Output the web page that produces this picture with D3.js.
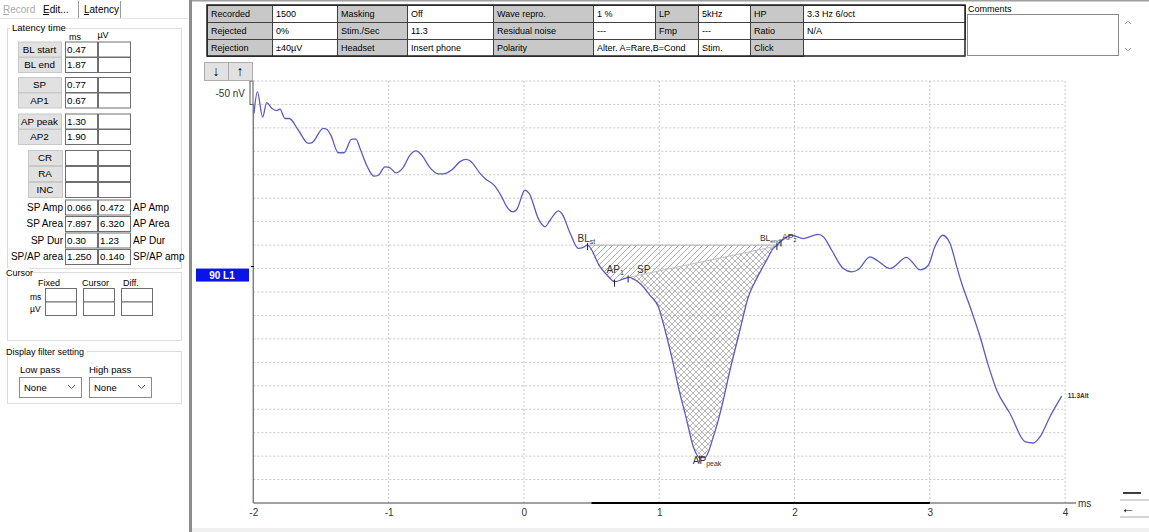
<!DOCTYPE html>
<html><head><meta charset="utf-8">
<script src="https://cdn.jsdelivr.net/npm/d3@7"></script>
<style>body{margin:0;background:#fff;overflow:hidden} text{font-family:"Liberation Sans",Arial,sans-serif}</style>
</head><body><svg id="c" width="1149" height="532"></svg>
<script>
// ---------------- DATA ----------------
const timeMs = [-1.995,-1.970,-1.931,-1.901,-1.864,-1.827,-1.803,-1.766,-1.734,-1.667,
 -1.593,-1.568,-1.483,-1.458,-1.428,-1.372,-1.330,-1.273,-1.241,-1.211,
 -1.157,-1.108,-1.076,-1.027,-0.995,-0.945,-0.896,-0.842,-0.798,-0.755,
 -0.699,-0.633,-0.596,-0.534,-0.472,-0.428,-0.398,-0.324,-0.288,-0.214,
 -0.164,-0.127,-0.083,-0.053,0.008,0.040,0.106,0.156,0.193,0.254,
 0.279,0.341,0.402,0.439,0.470,0.562,0.624,0.670,0.747,0.770,
 0.858,0.932,0.993,1.043,1.092,1.141,1.203,1.252,1.300,1.338,
 1.400,1.462,1.523,1.597,1.659,1.721,1.794,1.843,1.870,1.900,
 1.979,2.065,2.176,2.213,2.275,2.361,2.423,2.472,2.558,2.607,
 2.706,2.829,2.866,2.928,2.989,3.038,3.095,3.149,3.199,3.236,
 3.297,3.371,3.432,3.494,3.593,3.704,3.765,3.814,3.888,3.975];
const amplitudeUv = [0.331,0.377,0.323,0.354,0.342,0.337,0.340,0.320,0.320,0.295,
 0.267,0.268,0.299,0.297,0.285,0.247,0.247,0.276,0.276,0.256,
 0.217,0.197,0.199,0.217,0.216,0.204,0.214,0.242,0.251,0.242,
 0.217,0.202,0.202,0.210,0.228,0.233,0.230,0.203,0.192,0.176,
 0.153,0.132,0.121,0.126,0.167,0.160,0.107,0.089,0.103,0.123,
 0.118,0.076,0.043,0.045,0.050,0.004,-0.017,-0.028,-0.021,-0.019,
 -0.032,-0.057,-0.081,-0.131,-0.188,-0.252,-0.323,-0.380,-0.403,-0.403,
 -0.359,-0.295,-0.217,-0.131,-0.060,-0.021,0.018,0.043,0.050,0.058,
 0.071,0.064,0.073,0.068,0.039,0.000,-0.007,-0.002,0.025,0.018,
 0.000,0.024,0.015,-0.003,0.007,0.047,0.071,0.054,0.004,-0.032,
 -0.081,-0.145,-0.206,-0.259,-0.309,-0.369,-0.372,-0.359,-0.316,-0.272];

const xTicks = [-2,-1,0,1,2,3,4];
const latencyNames = ["BL start","BL end","SP","AP1","AP peak","AP2"];
const latencyMs = [0.47,1.87,0.77,0.67,1.30,1.90];
const extraNames = ["CR","RA","INC"];
const resultLeftLabels = ["SP Amp","SP Area","SP Dur","SP/AP area"];
const resultLeft = ["0.066","7.897","0.30","1.250"];
const resultRight = ["0.472","6.320","1.23","0.140"];
const resultRightLabels = ["AP Amp","AP Area","AP Dur","SP/AP amp"];
const tableRow1 = ["Recorded","1500","Masking","Off","Wave repro.","1 %","LP","5kHz","HP","3.3 Hz 6/oct"];
const tableRow2 = ["Rejected","0%","Stim./Sec","11.3","Residual noise","---","Fmp","---","Ratio","N/A"];
const tableRow3 = ["Rejection","±40µV","Headset","Insert phone","Polarity","Alter. A=Rare,B=Cond","Stim.","Click"];
const analysisWindow = [0.5, 3];
const scaleLabel = "-50 nV";
const traceLabel = "90 L1";
const traceNote = "11.3Alt";

// ---------------- DRAW ----------------
const svg = d3.select("#c");
const SERIF = "'Liberation Serif','Times New Roman',serif";

function t(g, x, y, s, o = {}) {
  const e = g.append("text").attr("x", x).attr("y", y).text(s)
    .attr("font-size", o.size || 10).attr("fill", o.fill || "#000");
  if (o.anchor) e.attr("text-anchor", o.anchor);
  if (o.weight) e.attr("font-weight", o.weight);
  if (o.family) e.attr("font-family", o.family);
  return e;
}
function box(g, x, y, w, h, fill, stroke, sw = 1) {
  return g.append("rect").attr("x", x + 0.5).attr("y", y + 0.5).attr("width", w).attr("height", h)
    .attr("fill", fill).attr("stroke", stroke).attr("stroke-width", sw);
}

// ----- left panel -----
const lp = svg.append("g");
t(lp, 3, 13, "Record", {fill: "#a8a8a8"});
lp.append("line").attr("x1", 3).attr("x2", 9).attr("y1", 14.5).attr("y2", 14.5).attr("stroke", "#a8a8a8");
t(lp, 43, 13, "Edit...");
lp.append("line").attr("x1", 43).attr("x2", 49).attr("y1", 14.5).attr("y2", 14.5).attr("stroke", "#000");
t(lp, 84, 13, "Latency");
lp.append("line").attr("x1", 84).attr("x2", 89).attr("y1", 14.5).attr("y2", 14.5).attr("stroke", "#000");
lp.append("path").attr("d", "M78.5,18V1M120.5,1V18").attr("fill", "none").attr("stroke", "#9a9a9a");
lp.append("line").attr("x1", 0).attr("x2", 188).attr("y1", 18.5).attr("y2", 18.5).attr("stroke", "#e4e4e4");

box(lp, 7, 28, 174, 240, "none", "#dcdcdc");
lp.append("rect").attr("x", 10).attr("y", 22).attr("width", 56).attr("height", 10).attr("fill", "#fff");
t(lp, 12, 31, "Latency time", {size: 9.5});
t(lp, 75, 40, "ms", {size: 9, anchor: "middle"});
t(lp, 103, 38, "µV", {size: 9, anchor: "middle"});

const latY = [41.5, 57, 77, 92.5, 113.5, 129];
latencyNames.forEach((n, i) => {
  box(lp, 18, latY[i], 43, 15, "#e1e1e1", "#c8c8c8");
  t(lp, 39.5, latY[i] + 11, n, {anchor: "middle", size: 9.8});
  box(lp, 65, latY[i], 32, 15, "#fff", "#6e6e6e");
  box(lp, 98, latY[i], 32, 15, "#fff", "#6e6e6e");
  t(lp, 67, latY[i] + 11, latencyMs[i].toFixed(2), {size: 9.8});
});
const exY = [150, 166, 182];
extraNames.forEach((n, i) => {
  box(lp, 28, exY[i], 34, 15, "#e1e1e1", "#c8c8c8");
  t(lp, 45, exY[i] + 11, n, {anchor: "middle", size: 9.8});
  box(lp, 65, exY[i], 32, 15, "#fff", "#6e6e6e");
  box(lp, 98, exY[i], 32, 15, "#fff", "#6e6e6e");
});
const resY = [199.5, 216, 232.5, 249];
resultLeftLabels.forEach((n, i) => {
  t(lp, 63, resY[i] + 11, n, {anchor: "end", size: 10});
  box(lp, 65, resY[i], 32, 15, "#fff", "#6e6e6e");
  box(lp, 98, resY[i], 32, 15, "#fff", "#6e6e6e");
  t(lp, 67, resY[i] + 11, resultLeft[i], {size: 9.8});
  t(lp, 100, resY[i] + 11, resultRight[i], {size: 9.8});
  t(lp, 133, resY[i] + 11, resultRightLabels[i], {size: 10});
});

box(lp, 7, 272, 174, 68, "none", "#dcdcdc");
lp.append("rect").attr("x", 5).attr("y", 268).attr("width", 24).attr("height", 9).attr("fill", "#fff");
t(lp, 6, 276, "Cursor", {size: 9});
t(lp, 38, 286, "Fixed", {size: 9});
t(lp, 82, 286, "Cursor", {size: 9});
t(lp, 123, 286, "Diff.", {size: 9});
t(lp, 30, 300, "ms", {size: 8.5});
t(lp, 30, 312, "µV", {size: 8.5});
[45, 83, 121].forEach(x => {
  box(lp, x, 288, 31, 13.5, "#fff", "#6e6e6e");
  box(lp, x, 301.5, 31, 13.5, "#fff", "#6e6e6e");
});

box(lp, 7, 351, 174, 52, "none", "#dcdcdc");
lp.append("rect").attr("x", 5).attr("y", 347).attr("width", 82).attr("height", 9).attr("fill", "#fff");
t(lp, 6, 355, "Display filter setting", {size: 9});
t(lp, 20, 373, "Low pass", {size: 9.5});
t(lp, 89, 373, "High pass", {size: 9.5});
[19, 89].forEach(x => {
  box(lp, x, 377, 62, 20, "#fff", "#8a8a8a");
  t(lp, x + 5, 391, "None", {size: 9.5});
  lp.append("path").attr("d", `M${x + 49},${385}l3.5,3.5l3.5,-3.5`).attr("fill", "none").attr("stroke", "#555");
});

svg.append("rect").attr("x", 189).attr("y", 0).attr("width", 3).attr("height", 532).attr("fill", "#8c8c8c");
svg.append("line").attr("x1", 192).attr("x2", 1149).attr("y1", 0.5).attr("y2", 0.5).attr("stroke", "#a0a0a0").attr("stroke-width", 2);
svg.append("rect").attr("x", 192).attr("y", 528).attr("width", 957).attr("height", 4).attr("fill", "#f0f0f0");

// ----- info table -----
const tb = svg.append("g");
const colX = [207, 272, 337, 407, 493, 593, 655, 698, 750, 803, 965];
const rowY = [5, 22, 39, 56];
function row(cells, r, spans) {
  let c = 0;
  cells.forEach((s, i) => {
    const span = spans ? spans[i] : 1;
    const x0 = colX[c], x1 = colX[c + span];
    const isLabel = c % 2 === 0;
    box(tb, x0, rowY[r], x1 - x0, rowY[r + 1] - rowY[r], isLabel ? "#c8c8c8" : "#fff", "#404040");
    t(tb, x0 + 4, rowY[r] + 12, s, {size: 9});
    c += span;
  });
}
row(tableRow1, 0);
row(tableRow2, 1);
row(tableRow3, 2, [1, 1, 1, 1, 1, 2, 1, 1]);
tb.append("rect").attr("x", 207).attr("y", 5).attr("width", 758).attr("height", 51)
  .attr("fill", "none").attr("stroke", "#202020").attr("stroke-width", 1.5);
t(tb, 968, 12, "Comments", {size: 9});
box(tb, 967, 14, 151, 41, "#fff", "#8a8a8a");
tb.append("path").attr("d", "M1125,24l3,-3l3,3").attr("fill", "none").attr("stroke", "#b0b0b0");
tb.append("path").attr("d", "M1125,48l3,3l3,-3").attr("fill", "none").attr("stroke", "#b0b0b0");

// ----- plot -----
const x = d3.scaleLinear().domain([-2, 4]).range([253.3, 1065.1]);
const y = d3.scaleLinear().domain([-0.5, 0.4]).range([503, 81]);
const pg = svg.append("g");

const defs = svg.append("defs");
const p1 = defs.append("pattern").attr("id", "diag").attr("patternUnits", "userSpaceOnUse")
  .attr("width", 6).attr("height", 6);
p1.append("path").attr("d", "M-1,1l2,-2M0,6l6,-6M5,7l2,-2").attr("stroke", "#9a9a9a").attr("stroke-width", 0.8);
const p2 = defs.append("pattern").attr("id", "cross").attr("patternUnits", "userSpaceOnUse")
  .attr("width", 6).attr("height", 6);
p2.append("path").attr("d", "M-1,1l2,-2M0,6l6,-6M5,7l2,-2M-1,5l2,2M0,0l6,6M5,-1l2,2").attr("stroke", "#9a9a9a").attr("stroke-width", 0.7);

const gridVals = d3.range(-9, 9).map(k => +(k * 0.05).toFixed(2));
pg.selectAll("line.h").data(gridVals).join("line")
  .attr("x1", x(-2)).attr("x2", x(4)).attr("y1", d => y(d)).attr("y2", d => y(d))
  .attr("stroke", "#c8c8c8").attr("stroke-dasharray", "2,2");
pg.selectAll("line.v").data(xTicks.slice(1)).join("line")
  .attr("x1", d => x(d)).attr("x2", d => x(d)).attr("y1", y(0.4)).attr("y2", y(-0.5))
  .attr("stroke", "#c8c8c8").attr("stroke-dasharray", "2,2");

const xAxis = d3.axisBottom(x).tickValues(xTicks).tickSize(0).tickPadding(6).tickFormat(d => String(d));
const xa = pg.append("g").attr("transform", `translate(0,${y(-0.5)})`).call(xAxis);
xa.select(".domain").remove();
xa.selectAll("text").attr("font-size", 10).attr("fill", "#333").attr("font-family", "Liberation Sans, Arial, sans-serif");
pg.append("line").attr("x1", x(-2)).attr("x2", 1076).attr("y1", y(-0.5)).attr("y2", y(-0.5)).attr("stroke", "#808080").attr("stroke-width", 1.5);
pg.append("line").attr("x1", x(analysisWindow[0])).attr("x2", x(analysisWindow[1])).attr("y1", y(-0.5)).attr("y2", y(-0.5)).attr("stroke", "#000").attr("stroke-width", 2.2);
t(pg, 1078, 507, "ms", {size: 10, fill: "#333"});
pg.append("line").attr("x1", x(-2)).attr("x2", x(-2)).attr("y1", y(0.35)).attr("y2", y(-0.5)).attr("stroke", "#808080").attr("stroke-width", 1.5);
pg.append("rect").attr("x", x(-2) - 3.3).attr("y", y(0.4)).attr("width", 3).attr("height", y(0.35) - y(0.4))
  .attr("fill", "#fff").attr("stroke", "#555").attr("stroke-width", 1);
t(pg, 245, 97, scaleLabel, {size: 10, anchor: "end", fill: "#333"});

[[204, "↓"], [228, "↑"]].forEach(([bx, s]) => {
  box(pg, bx, 62, 24, 18, "#e1e1e1", "#adadad");
  t(pg, bx + 12, 76, s, {size: 14, anchor: "middle", weight: "bold"});
});

pg.append("rect").attr("x", 196).attr("y", y(0)).attr("width", 53).attr("height", 13).attr("fill", "#0a14e8");
t(pg, 222, y(0) + 10, traceLabel, {size: 10, anchor: "middle", weight: "bold", fill: "#fff"});
pg.append("line").attr("x1", 251).attr("x2", 254).attr("y1", y(0) - 2).attr("y2", y(0) - 2).attr("stroke", "#000");

const pts = timeMs.map((d, i) => [d, amplitudeUv[i]]);
const idx = ms => timeMs.findIndex(v => Math.abs(v - ms) < 1e-6);
const [blS, blE, spT, ap1T, apPT, ap2T] = latencyMs;
const base = amplitudeUv[idx(blS)];
const spPoly = pts.slice(idx(blS), idx(spT) + 1).concat([[ap2T, base]]);
const apPoly = pts.slice(idx(spT), idx(ap2T) + 1).concat([[ap2T, base]]);
const poly = d3.line().x(d => x(d[0])).y(d => y(d[1]));
pg.append("path").attr("d", poly(spPoly) + "Z").attr("fill", "url(#diag)").attr("stroke", "none");
pg.append("path").attr("d", poly(apPoly) + "Z").attr("fill", "url(#cross)").attr("stroke", "none");
pg.append("line").attr("x1", x(blS)).attr("x2", x(ap2T)).attr("y1", y(base)).attr("y2", y(base)).attr("stroke", "#b0b0b0");
pg.append("line").attr("x1", x(spT)).attr("x2", x(ap2T)).attr("y1", y(amplitudeUv[idx(spT)])).attr("y2", y(base)).attr("stroke", "#c0c0c0");

const line = d3.line().x(d => x(d[0])).y(d => y(d[1])).curve(d3.curveMonotoneX);
pg.append("path").attr("d", line(pts)).attr("fill", "none").attr("stroke", "#5a5ac8").attr("stroke-width", 1.3);

function mark(ms, dx, dy, main, sub, size = 10) {
  const px = x(ms), py = y(amplitudeUv[idx(ms)]);
  pg.append("line").attr("x1", px).attr("x2", px).attr("y1", py - 2).attr("y2", py + 5).attr("stroke", "#222");
  const e = t(pg, px + dx, py + dy, main, {size: size, family: SERIF, fill: "#333"});
  e.append("tspan").attr("font-size", size * 0.7).attr("dy", 2).text(sub);
}
mark(blS, -10, -3, "BL", "st");
mark(ap1T, -8, -9, "AP", "1");
mark(spT, 9, -4, "SP", "");
mark(apPT, -7, 6, "AP", "peak");
mark(blE, -17, -4, "BL", "end", 8.5);
mark(ap2T, 1, -1, "AP", "2", 8.5);

t(pg, x(timeMs[timeMs.length - 1]) + 6, y(amplitudeUv[amplitudeUv.length - 1]) + 2, traceNote, {size: 6.5, weight: "bold", fill: "#333"});

pg.append("line").attr("x1", 1123).attr("x2", 1141).attr("y1", 493).attr("y2", 493).attr("stroke", "#000").attr("stroke-width", 1.5);
pg.append("line").attr("x1", 1120).attr("x2", 1149).attr("y1", 500).attr("y2", 500).attr("stroke", "#aaa");
t(pg, 1121, 513, "←", {size: 14, weight: "bold"});
pg.append("line").attr("x1", 1120).attr("x2", 1149).attr("y1", 517).attr("y2", 517).attr("stroke", "#aaa");
</script></body></html>
